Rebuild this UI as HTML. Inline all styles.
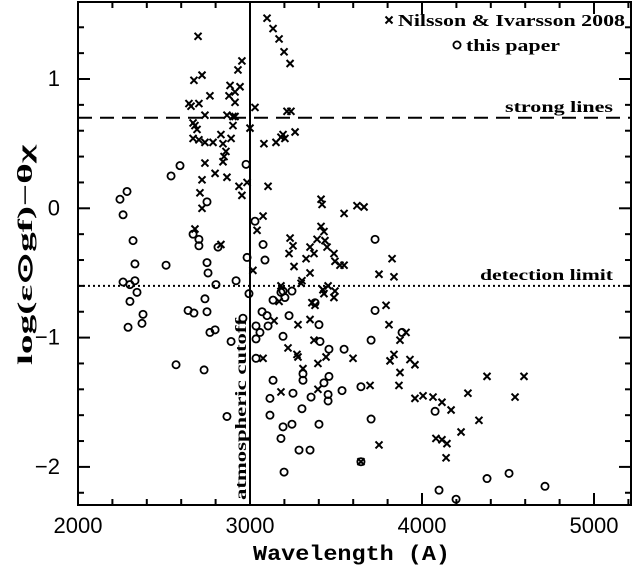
<!DOCTYPE html>
<html><head><meta charset="utf-8"><style>
html,body{margin:0;padding:0;background:#fff;}
svg{display:block;font-family:"Liberation Sans",sans-serif;}
</style></head><body>
<svg id="chart" width="633" height="571" viewBox="0 0 633 571" xmlns="http://www.w3.org/2000/svg"></svg>
<script>
const xTicks=[2000,3000,4000,5000];
const yTicks=[1,0,-1,-2];
const yTickLabels=["1","0","\u22121","\u22122"];
const nilssonLambda=[2698,2674,2721,2767,2645,2703,2657,2738,2669,2680,2692,2669,2703,2738,2785,2831,2843,2860,2849,2843,2738,2797,2866,2721,2709,2721,2680,2936,2953,2983,2953,2930,2884,2942,2913,2878,2913,2866,2901,2913,2901,2890,3000,3029,3081,3105,3076,3041,2831,3233,3250,3099,3134,3169,3198,3233,3215,3238,3262,3192,3203,3180,3151,3413,3419,3547,3622,3663,3413,3430,3349,3390,3436,3448,3227,3372,3326,3488,3494,3523,3547,3256,3349,3017,3826,3750,3837,3180,3302,3297,3169,3424,3454,3494,3430,3488,3360,3378,3791,3140,3279,3349,3808,3907,3872,3372,3221,3273,3279,3442,3599,3837,3814,3395,3930,3959,3076,3308,3872,3866,3698,3180,3395,3959,4006,4064,4081,3750,3645,4116,4169,4267,4378,4593,4541,4331,4227,4116,4145,4140];
const nilssonValue=[1.33,0.99,1.03,0.87,0.81,0.81,0.79,0.72,0.66,0.64,0.61,0.54,0.53,0.51,0.51,0.57,0.50,0.44,0.40,0.36,0.35,0.27,0.24,0.22,0.12,0.00,-0.16,0.17,0.10,0.20,1.14,1.07,0.95,0.94,0.90,0.87,0.82,0.72,0.71,0.71,0.64,0.54,0.62,0.78,0.50,0.17,-0.06,-0.17,-0.28,-0.23,-0.29,1.47,1.39,1.31,1.21,1.12,0.75,0.75,0.59,0.57,0.54,0.55,0.51,0.07,0.03,-0.04,0.02,0.01,-0.14,-0.18,-0.30,-0.24,-0.25,-0.30,-0.35,-0.35,-0.39,-0.35,-0.41,-0.44,-0.44,-0.45,-0.50,-0.48,-0.39,-0.51,-0.53,-0.60,-0.56,-0.58,-0.72,-0.63,-0.60,-0.64,-0.66,-0.69,-0.73,-0.75,-0.75,-0.87,-0.90,-0.86,-0.90,-0.96,-1.02,-1.02,-1.08,-1.13,-1.15,-1.15,-1.16,-1.13,-1.18,-1.20,-1.17,-1.21,-1.16,-1.24,-1.27,-1.37,-1.37,-1.42,-1.40,-1.47,-1.45,-1.46,-1.78,-1.83,-1.96,-1.50,-1.56,-1.43,-1.30,-1.30,-1.46,-1.64,-1.73,-1.79,-1.82,-1.93];
const paperLambda=[2593,2541,2285,2244,2262,2750,2977,3029,3076,2669,2703,2703,2814,2320,2331,2512,2750,2756,2983,3087,2262,2302,2331,2343,2302,2802,2919,2994,2738,2640,2674,2750,2378,2372,2291,2959,2767,2797,2890,2570,2733,2866,3180,3192,3244,3134,3203,3378,3070,3099,3227,3035,3105,3058,3035,3192,3401,3407,3459,3547,3727,3704,3884,3035,3134,3308,3308,3459,3430,3116,3250,3355,3454,3454,3535,3645,3116,3302,3192,3244,3401,3704,4076,3180,3285,3349,3645,3198,3727,4378,4506,4715,4099,4198];
const paperValue=[0.33,0.25,0.13,0.07,-0.05,0.05,0.34,-0.10,-0.28,-0.20,-0.24,-0.29,-0.30,-0.25,-0.43,-0.44,-0.42,-0.50,-0.38,-0.40,-0.57,-0.59,-0.56,-0.65,-0.72,-0.59,-0.56,-0.66,-0.70,-0.79,-0.81,-0.80,-0.82,-0.89,-0.92,-0.85,-0.96,-0.94,-1.03,-1.21,-1.25,-1.61,-0.65,-0.64,-0.64,-0.71,-0.69,-0.73,-0.80,-0.83,-0.83,-0.91,-0.91,-0.96,-1.01,-0.99,-0.90,-1.03,-1.09,-1.09,-0.79,-1.02,-0.96,-1.16,-1.33,-1.28,-1.33,-1.30,-1.35,-1.47,-1.43,-1.46,-1.44,-1.49,-1.41,-1.38,-1.60,-1.55,-1.69,-1.67,-1.67,-1.63,-1.57,-1.78,-1.87,-1.87,-1.96,-2.04,-0.24,-2.09,-2.05,-2.15,-2.18,-2.25];
const strongLine=0.7, detectionLimit=-0.6, cutoffLambda=3000;

const NS="http://www.w3.org/2000/svg";
const svg=document.getElementById('chart');
const L=78,R=631,T=2,B=505;
const X=v=>78+(v-2000)*0.172;
const Y=v=>79+(1-v)*129.3;
const SERIF='"Liberation Serif",serif';
function mk(tag,attrs,parent){const e=document.createElementNS(NS,tag);for(const k in attrs)e.setAttribute(k,attrs[k]);(parent||svg).appendChild(e);return e;}

const frame=mk('rect',{x:L,y:T,width:R-L,height:B-T,fill:'none',stroke:'#000','stroke-width':2});



for(let v=2000;v<=5200;v+=200){
  const major=v%1000===0, len=major?12:6, x=X(v);
  const t1=mk('line',{x1:x,y1:B,x2:x,y2:B-len,stroke:'#000','stroke-width':2});
  
  
  const t2=mk('line',{x1:x,y1:T,x2:x,y2:T+len,stroke:'#000','stroke-width':2});
  
  
}
xTicks.forEach(v=>{
  const t=mk('text',{x:X(v),y:533,'text-anchor':'middle','font-size':22});
  t.textContent=String(v);
  
  
});
for(let i=-11;i<=8;i++){
  const v=i/5, major=i%5===0, len=major?12:6, y=Y(v);
  if(y<T||y>B) continue;
  const t1=mk('line',{x1:L,y1:y,x2:L+len,y2:y,stroke:'#000','stroke-width':2});
  
  
  const t2=mk('line',{x1:R,y1:y,x2:R-len,y2:y,stroke:'#000','stroke-width':2});
  
  
}
yTicks.forEach((v,i)=>{
  const t=mk('text',{x:60,y:Y(v)+7,'text-anchor':'end','font-size':22});
  t.textContent=yTickLabels[i];
  
  
});

const sl=mk('line',{x1:L,y1:Y(strongLine),x2:R,y2:Y(strongLine),stroke:'#000','stroke-width':2,'stroke-dasharray':'14,8'});


const dl=mk('line',{x1:L,y1:Y(detectionLimit),x2:R,y2:Y(detectionLimit),stroke:'#000','stroke-width':2,'stroke-dasharray':'2,3'});


const cl=mk('line',{x1:X(cutoffLambda),y1:T,x2:X(cutoffLambda),y2:B,stroke:'#000','stroke-width':2});



const slt=mk('text',{x:505,y:Y(strongLine)-6,'font-size':16,'font-weight':'bold','font-family':SERIF,textLength:108,lengthAdjust:'spacingAndGlyphs'});
slt.textContent='strong lines';


const dlt=mk('text',{x:480,y:Y(detectionLimit)-6,'font-size':16,'font-weight':'bold','font-family':SERIF,textLength:133,lengthAdjust:'spacingAndGlyphs'});
dlt.textContent='detection limit';


const clt=mk('text',{x:0,y:0,'font-size':16,'font-weight':'bold','font-family':SERIF,textLength:182,lengthAdjust:'spacingAndGlyphs',transform:`translate(${X(cutoffLambda)-4},500) rotate(-90)`});
clt.textContent='atmospheric cutoff';



function cross(cx,cy,name){
  const g=mk('path',{d:`M${cx-3.5},${cy-3.5}L${cx+3.5},${cy+3.5}M${cx-3.5},${cy+3.5}L${cx+3.5},${cy-3.5}`,stroke:'#000','stroke-width':2,fill:'none'});
  
  
}
function circ(cx,cy,name){
  const c=mk('circle',{cx:cx,cy:cy,r:3.6,stroke:'#000','stroke-width':1.8,fill:'none'});
  
  
}
nilssonLambda.forEach((l,i)=>cross(X(l),Y(nilssonValue[i]),'nilsson-point'));
paperLambda.forEach((l,i)=>circ(X(l),Y(paperValue[i]),'paper-point'));

cross(389,20,'legend-cross-marker');
const lg1=mk('text',{x:398,y:26,'font-size':17,'font-weight':'bold','font-family':SERIF,textLength:227,lengthAdjust:'spacingAndGlyphs'});
lg1.textContent='Nilsson & Ivarsson 2008';


circ(457,45,'legend-circle-marker');
const lg2=mk('text',{x:466,y:51,'font-size':17,'font-weight':'bold','font-family':SERIF,textLength:94,lengthAdjust:'spacingAndGlyphs'});
lg2.textContent='this paper';



const xt=mk('text',{x:253,y:560,'font-size':21,'font-weight':'bold','font-family':'"Liberation Mono",monospace',textLength:197,lengthAdjust:'spacingAndGlyphs'});
xt.textContent='Wavelength (A)';


const yt=mk('text',{x:0,y:0,'font-size':21,'font-weight':'bold','font-family':SERIF,textLength:220,lengthAdjust:'spacingAndGlyphs',transform:'translate(32,365) rotate(-90)'});
yt.textContent='log(\u03b5\u2299gf)\u2212\u03b8\u03c7';


</script>
</body></html>
